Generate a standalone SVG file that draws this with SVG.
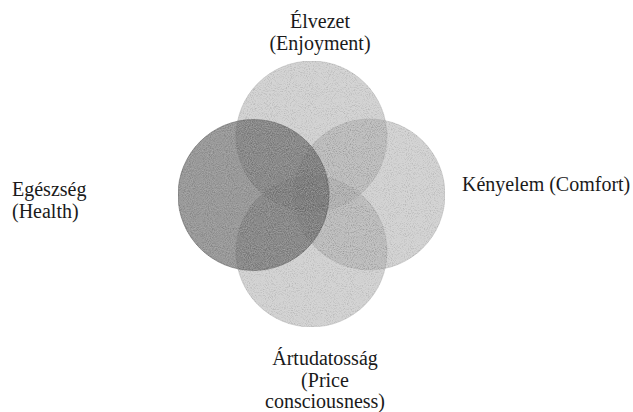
<svg xmlns="http://www.w3.org/2000/svg" width="633" height="412" viewBox="0 0 633 412">
  <style>
    .lbl { font-family: "Liberation Serif", "Times New Roman", serif; font-size: 20px; fill: #1a1a1a; }
    .mid { text-anchor: middle; }
    .light { fill: #a9a9a9; fill-opacity: 0.52; stroke: #9a9a9a; stroke-opacity: 0.35; stroke-width: 1; }
    .dark { fill: #646464; fill-opacity: 0.65; stroke: #555; stroke-opacity: 0.5; stroke-width: 1; }
  </style>
  <defs>
    <filter id="grain" x="0" y="0" width="100%" height="100%" color-interpolation-filters="sRGB">
      <feTurbulence type="fractalNoise" baseFrequency="0.95" numOctaves="2" seed="7" result="n"/>
      <feColorMatrix in="n" type="matrix" values="0 0 0 0 0  0 0 0 0 0  0 0 0 0 0  0.7 0 0 0 -0.35" result="blk"/>
      <feColorMatrix in="n" type="matrix" values="0 0 0 0 1  0 0 0 0 1  0 0 0 0 1  -0.7 0 0 0 0.35" result="wht"/>
      <feComposite in="blk" in2="SourceGraphic" operator="in" result="blk2"/>
      <feComposite in="wht" in2="SourceGraphic" operator="in" result="wht2"/>
      <feMerge>
        <feMergeNode in="SourceGraphic"/>
        <feMergeNode in="blk2"/>
        <feMergeNode in="wht2"/>
      </feMerge>
    </filter>
  </defs>
  <g id="circles" filter="url(#grain)">
    <g id="node-elvezet"><circle class="light" cx="311.5" cy="136.5" r="75.5"/></g>
    <g id="node-kenyelem"><circle class="light" cx="369.5" cy="194.5" r="75.5"/></g>
    <g id="node-artudatossag"><circle class="light" cx="311.5" cy="251.5" r="75.5"/></g>
    <g id="node-egeszseg"><circle class="dark" cx="253.5" cy="195" r="75.5"/></g>
  </g>
  <g id="connectors"/>
  <g id="labels">
    <g id="label-elvezet">
      <text class="lbl mid" x="320" y="28">Élvezet</text>
      <text class="lbl mid" x="320" y="50">(Enjoyment)</text>
    </g>
    <g id="label-kenyelem">
      <text class="lbl" x="462" y="191">Kényelem (Comfort)</text>
    </g>
    <g id="label-egeszseg">
      <text class="lbl" x="12" y="196">Egészség</text>
      <text class="lbl" x="12" y="218">(Health)</text>
    </g>
    <g id="label-artudatossag">
      <text class="lbl mid" x="325" y="365">Ártudatosság</text>
      <text class="lbl mid" x="325" y="387">(Price</text>
      <text class="lbl mid" x="325" y="408">consciousness)</text>
    </g>
  </g>
</svg>
